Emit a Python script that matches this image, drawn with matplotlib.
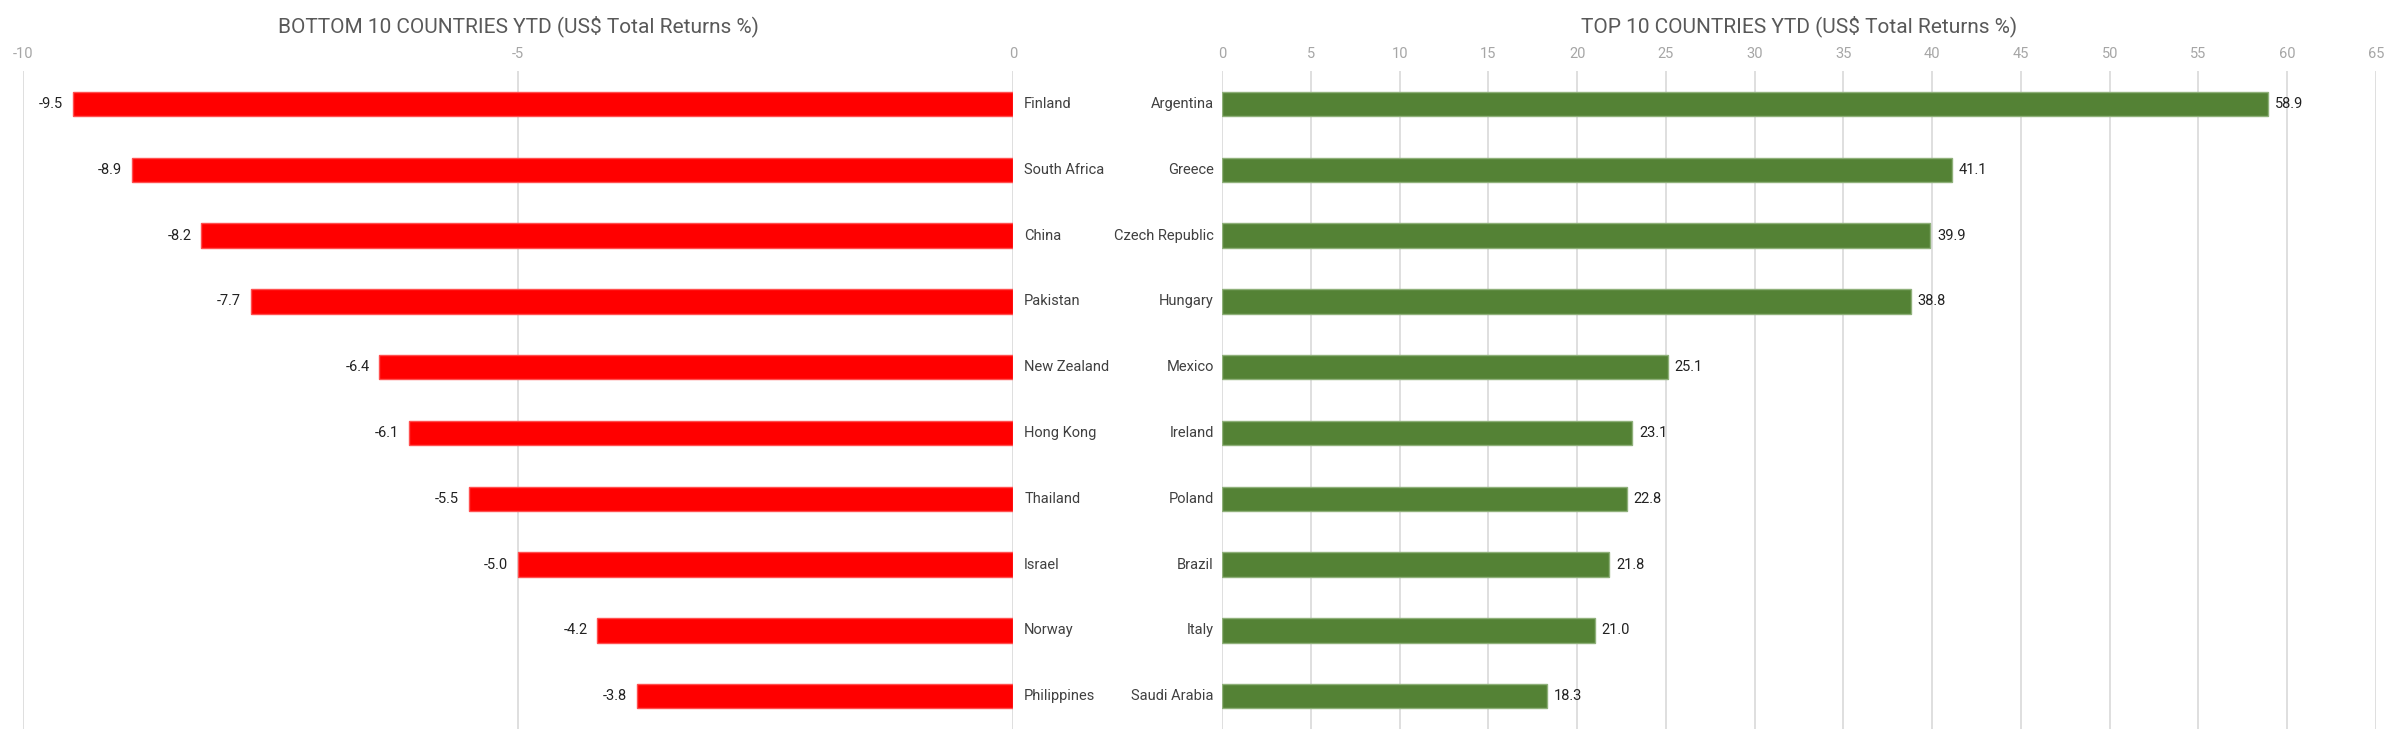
import matplotlib.pyplot as plt

# Данные: худшие и лучшие страны YTD (US$ Total Returns %)
bottom_countries = ["Finland", "South Africa", "China", "Pakistan", "New Zealand",
                    "Hong Kong", "Thailand", "Israel", "Norway", "Philippines"]
bottom_values = [-9.5, -8.9, -8.2, -7.7, -6.4, -6.1, -5.5, -5.0, -4.2, -3.8]

top_countries = ["Argentina", "Greece", "Czech Republic", "Hungary", "Mexico",
                 "Ireland", "Poland", "Brazil", "Italy", "Saudi Arabia"]
top_values = [58.9, 41.1, 39.9, 38.8, 25.1, 23.1, 22.8, 21.8, 21.0, 18.3]

bottom_ticks = [-10, -5, 0]
top_ticks = list(range(0, 70, 5))

plt.rcParams['font.family'] = ['Roboto', 'DejaVu Sans']

fig = plt.figure(figsize=(23.99, 7.43), dpi=100)
ax1 = fig.add_axes([0.0096, 0.0188, 0.4127, 0.8856])
ax2 = fig.add_axes([0.5094, 0.0188, 0.4810, 0.8856])

grid_c = "#d9d9d9"
tick_c = "#a6a6a6"


def style(ax, ticks, lim):
    ax.set_xlim(*lim)
    ax.set_ylim(len(bottom_countries) - 0.5, -0.5)
    ax.set_xticks(ticks)
    ax.set_xticklabels([str(t) for t in ticks])
    ax.xaxis.tick_top()
    ax.tick_params(axis='x', length=0, pad=7, labelsize=10.5, labelcolor=tick_c)
    ax.set_yticks([])
    for s in ax.spines.values():
        s.set_visible(False)
    ax.grid(axis='x', color=grid_c, linewidth=1.2)
    ax.set_axisbelow(True)


# Левый график
pos = range(len(bottom_countries))
ax1.barh(pos, bottom_values, height=0.37, color="#ff0000", edgecolor="#ff5050", linewidth=1)
style(ax1, bottom_ticks, (-10, 0))
for i, (c, v) in enumerate(zip(bottom_countries, bottom_values)):
    ax1.annotate(f"{v:.1f}", (v, i), xytext=(-7, 0), textcoords='offset points',
                 ha='right', va='center', fontsize=10.5, color="#222222")
    ax1.annotate(c, (0, i), xytext=(8, 0), textcoords='offset points',
                 ha='left', va='center', fontsize=10.5, color="#404040", annotation_clip=False)
ax1.set_title("BOTTOM 10 COUNTRIES YTD (US$ Total Returns %)", fontsize=15, color="#595959", pad=28)

# Правый график
ax2.barh(pos, top_values, height=0.37, color="#548235", edgecolor="#8fb07a", linewidth=1)
style(ax2, top_ticks, (0, 65))
for i, (c, v) in enumerate(zip(top_countries, top_values)):
    ax2.annotate(f"{v:.1f}", (v, i), xytext=(5, 0), textcoords='offset points',
                 ha='left', va='center', fontsize=10.5, color="#222222")
    ax2.annotate(c, (0, i), xytext=(-6, 0), textcoords='offset points',
                 ha='right', va='center', fontsize=10.5, color="#404040", annotation_clip=False)
ax2.set_title("TOP 10 COUNTRIES YTD (US$ Total Returns %)", fontsize=15, color="#595959", pad=28)

fig.savefig("out.png", dpi=100)
